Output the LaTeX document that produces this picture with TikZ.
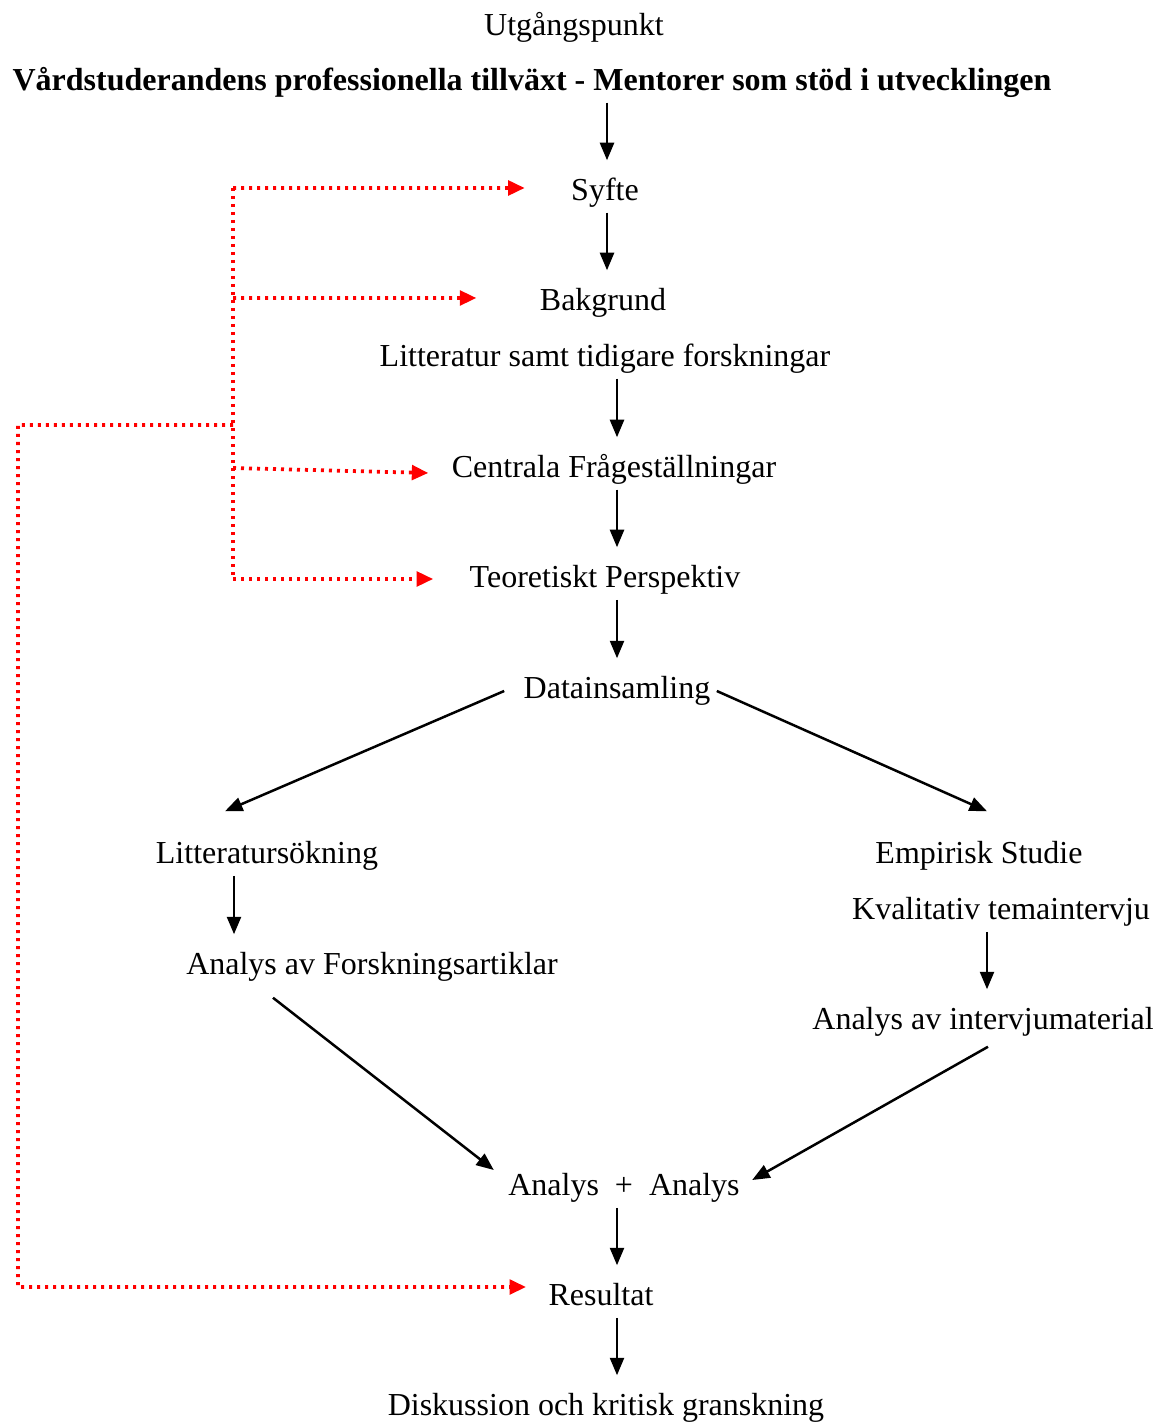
\documentclass[tikz,border=0pt]{standalone}
\usepackage{fontspec}
\setmainfont{Liberation Serif}
\usetikzlibrary{arrows.meta}
\tikzset{
    txt/.style={inner xsep=0pt, inner ysep=2pt, text height=8.8pt, text depth=2.6pt,
        font=\fontsize{12.8}{15}\selectfont},
    pil/.style={-{Triangle[length=7pt,width=5.6pt]}, line width=1pt, shorten >=5.2pt},
    rod/.style={red, line width=1.5pt, dash pattern=on 1.2pt off 2pt},
    rodpil/.style={rod, -{Triangle[length=6.6pt,width=5.8pt]}}
}

\begin{document}
\begin{tikzpicture}[x=0.4pt,y=-0.4pt]
    \useasboundingbox (0,0) rectangle (1160,1423);
    % kolumner for pilarna
    \coordinate (k1) at (607,0);
    \coordinate (k2) at (617,0);
    \coordinate (k3) at (234,0);
    \coordinate (k4) at (987,0);
    % text
    \node[txt] (utg) at (574,28) {Utgångspunkt};
    \node[txt, font=\fontsize{12.8}{15}\selectfont\bfseries] (titel) at (532,83)
        {Vårdstuderandens professionella tillväxt - Mentorer som stöd i utvecklingen};
    \node[txt] (syfte) at (605,193) {Syfte};
    \node[txt] (bakgr) at (603,303) {Bakgrund};
    \node[txt] (litt) at (605,359) {Litteratur samt tidigare forskningar};
    \node[txt] (centr) at (614,470) {Centrala Frågeställningar};
    \node[txt] (teori) at (605,580) {Teoretiskt Perspektiv};
    \node[txt] (data) at (617,691) {Datainsamling};
    \node[txt] (litsok) at (267,856) {Litteratursökning};
    \node[txt] (empir) at (979,856) {Empirisk Studie};
    \node[txt] (kval) at (1001,912) {Kvalitativ temaintervju};
    \node[txt] (anaf) at (372,967) {Analys av Forskningsartiklar};
    \node[txt] (anai) at (983,1022) {Analys av intervjumaterial};
    \node[txt] (anal) at (624,1188) {Analys\ \ +\ \ Analys};
    \node[txt] (res) at (601,1298) {Resultat};
    \node[txt] (disk) at (606,1408) {Diskussion och kritisk granskning};
    % svarta pilar
    \draw[pil] (titel.south -| k1) -- (syfte.north -| k1);
    \draw[pil] (syfte.south -| k1) -- (bakgr.north -| k1);
    \draw[pil] (litt.south -| k2) -- (centr.north -| k2);
    \draw[pil] (centr.south -| k2) -- (teori.north -| k2);
    \draw[pil] (teori.south -| k2) -- (data.north -| k2);
    \draw[pil, shorten >=0pt] ([xshift=-7.6pt]data.west)
        -- ([xshift=-16.8pt,yshift=10pt]litsok.north);
    \draw[pil, shorten >=0pt] ([xshift=2.4pt]data.east)
        -- ([xshift=3.2pt,yshift=10pt]empir.north);
    \draw[pil] (litsok.south -| k3) -- (anaf.north -| k3);
    \draw[pil] (kval.south -| k4) -- (anai.north -| k4);
    \draw[pil, shorten >=0pt] ([xshift=-39.6pt,yshift=-4.4pt]anaf.south)
        -- ([xshift=-5.6pt,yshift=7.2pt]anal.west);
    \draw[pil, shorten >=0pt] ([xshift=2pt,yshift=-2pt]anai.south)
        -- ([xshift=4.8pt,yshift=3.2pt]anal.east);
    \draw[pil] (anal.south -| k2) -- (res.north -| k2);
    \draw[pil] (res.south -| k2) -- (disk.north -| k2);
    % roda prickade pilar
    \draw[rod] (233,188) -- (233,579);
    \draw[rodpil] (233,188) -- ([xshift=-18.4pt,yshift=2pt]syfte.west);
    \draw[rodpil] (233,298) -- ([xshift=-25.2pt,yshift=2pt]bakgr.west);
    \draw[rodpil] (233,468) -- ([xshift=-9.2pt,yshift=-1.2pt]centr.west);
    \draw[rodpil] (233,579) -- ([xshift=-14.4pt,yshift=0.4pt]teori.west);
    \draw[rodpil] (233,425) -- (18,425) -- (18,1287) -- ([xshift=-8.8pt,yshift=4.4pt]res.west);
\end{tikzpicture}
\end{document}
